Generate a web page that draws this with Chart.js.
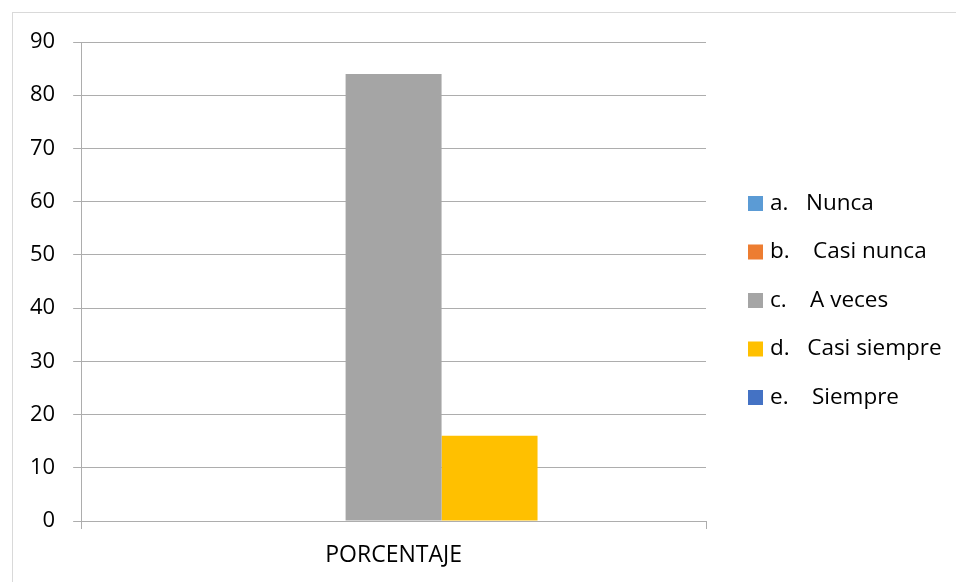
<!DOCTYPE html>
<html lang="es">
<head>
<meta charset="utf-8">
<title>Porcentaje</title>
<script src="https://cdn.jsdelivr.net/npm/chart.js@4.4.1/dist/chart.umd.min.js"></script>
<style>
  html, body { margin: 0; padding: 0; background: #fff; overflow: hidden; }
  #wrap { position: relative; width: 956px; height: 582px; }
  #frame {
    position: absolute; left: 12px; top: 12px; width: 960px; height: 590px;
    border-left: 1px solid #d9d9d9; border-top: 1px solid #d9d9d9;
  }
  canvas { position: absolute; left: 0; top: 0; }
</style>
</head>
<body>
<div id="wrap">
  <div id="frame"></div>
  <canvas id="chart" width="956" height="582"></canvas>
</div>
<script>
// Survey answers, one bar per option
const categories = ['PORCENTAJE'];
const optionLabels = [
  'a.   Nunca',
  'b.    Casi nunca',
  'c.    A veces',
  'd.   Casi siempre',
  'e.    Siempre'
];
const nunca = [0];
const casiNunca = [0];
const aVeces = [84];
const casiSiempre = [16];
const siempre = [0];
const yTicks = [0, 10, 20, 30, 40, 50, 60, 70, 80, 90];

const palette = ['#5b9bd5', '#ed7d31', '#a5a5a5', '#ffc000', '#4472c4'];
const axisColor = '#adadad';
const fontFamily = "'Open Sans', sans-serif";

Chart.defaults.font.family = fontFamily;
Chart.defaults.font.size = 22;
Chart.defaults.color = '#000';

// Legend drawn by hand so it can sit apart from the plot like the Excel one
const sideLegend = {
  id: 'sideLegend',
  afterDraw(chart, args, opts) {
    const { ctx } = chart;
    ctx.save();
    ctx.font = `${opts.fontSize}px ${fontFamily}`;
    ctx.textBaseline = 'middle';
    ctx.textAlign = 'left';
    chart.data.datasets.forEach((ds, i) => {
      const y = opts.top + i * opts.step;
      ctx.fillStyle = ds.backgroundColor;
      ctx.fillRect(opts.x, y - opts.box / 2, opts.box, opts.box);
      ctx.fillStyle = '#000';
      ctx.fillText(ds.label, opts.x + opts.box + opts.gap, y);
    });
    ctx.restore();
  }
};

const series = [nunca, casiNunca, aVeces, casiSiempre, siempre];

new Chart(document.getElementById('chart'), {
  type: 'bar',
  data: {
    labels: categories,
    datasets: series.map((values, i) => ({
      label: optionLabels[i],
      data: values,
      backgroundColor: palette[i],
      borderWidth: 0,
      categoryPercentage: 0.768,
      barPercentage: 1
    }))
  },
  options: {
    responsive: false,
    animation: false,
    layout: {
      padding: { left: 12, top: 42, right: 250, bottom: 0.4 }
    },
    scales: {
      x: {
        offset: true,
        grid: {
          offset: true,
          drawOnChartArea: false,
          tickLength: 8,
          color: axisColor
        },
        border: { color: axisColor },
        ticks: { padding: 12.5, font: { size: 23 } }
      },
      y: {
        min: yTicks[0],
        max: yTicks[yTicks.length - 1],
        grid: { tickLength: 8, color: axisColor },
        border: { color: axisColor },
        ticks: { stepSize: yTicks[1] - yTicks[0], padding: 18 }
      }
    },
    plugins: {
      legend: { display: false },
      tooltip: { enabled: false },
      sideLegend: { x: 748, top: 203.5, step: 48.5, box: 15, gap: 7, fontSize: 22.5 }
    }
  },
  plugins: [sideLegend]
});
</script>
</body>
</html>
